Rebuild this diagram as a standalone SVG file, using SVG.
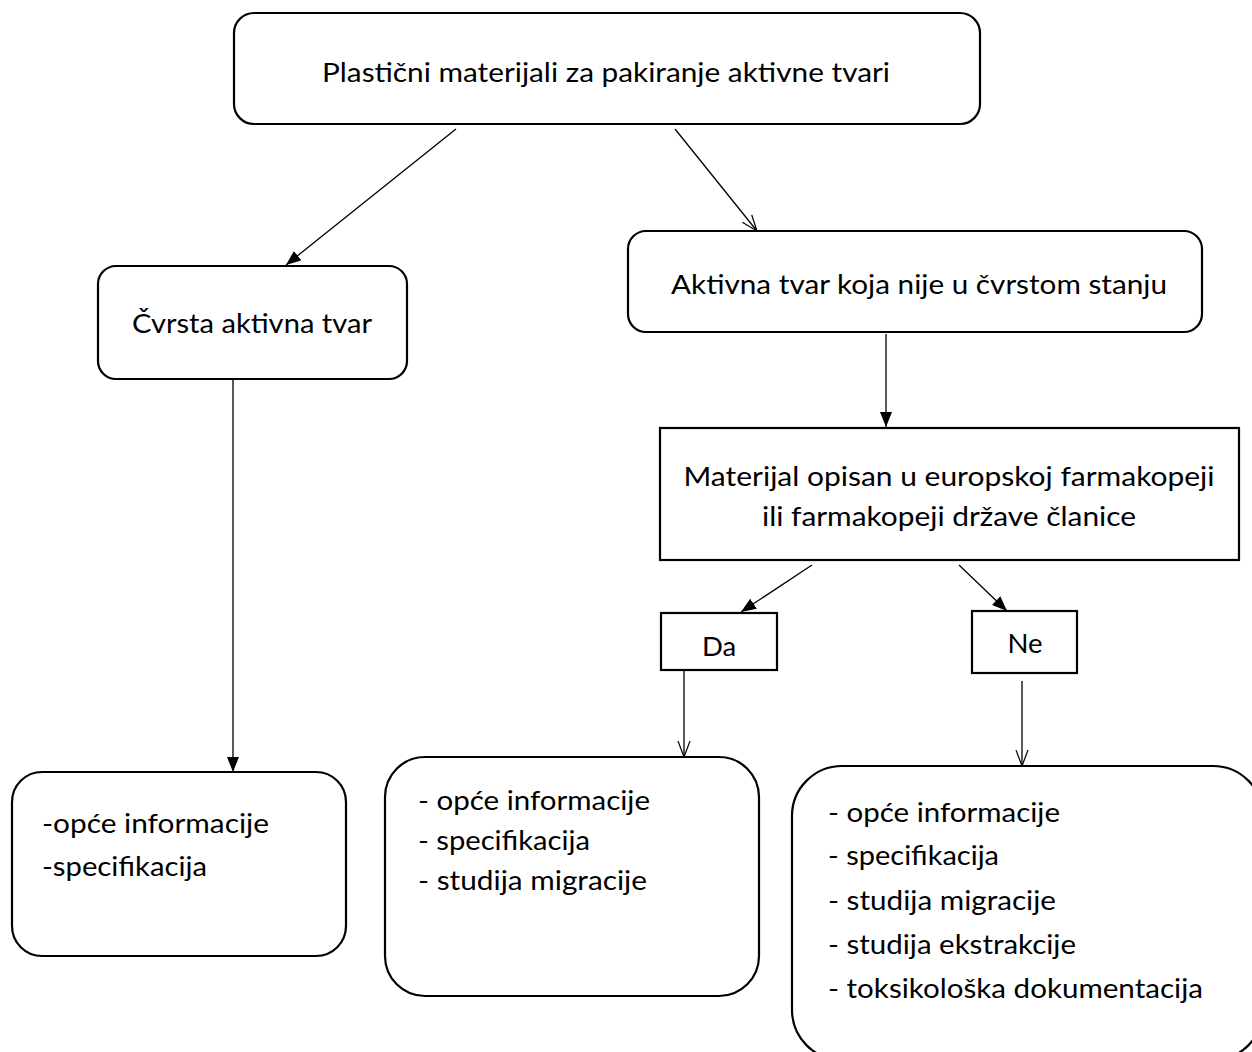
<svg xmlns="http://www.w3.org/2000/svg" width="1252" height="1052" viewBox="0 0 1252 1052">
<style>
.box{fill:#fff;stroke:#000;stroke-width:2.2}
.t{font-family:Lato,"Open Sans","Liberation Sans",sans-serif;font-size:27.5px;fill:#000}
.c{text-anchor:middle}
.con{stroke:#000;stroke-width:1.3;fill:none}
</style>
<defs>
<marker id="fill" markerUnits="userSpaceOnUse" markerWidth="16" markerHeight="12" refX="15" refY="6" orient="auto">
<path d="M0,0 L15,6 L0,12 z" fill="#000"/>
</marker>
<marker id="open" markerUnits="userSpaceOnUse" markerWidth="18" markerHeight="14" refX="16" refY="7" orient="auto">
<path d="M0,1 L16,7 L0,13" fill="none" stroke="#000" stroke-width="1.2"/>
</marker>
</defs>
<rect width="1252" height="1052" fill="#fff"/>
<g id="connectors">
<line class="con" x1="456" y1="129" x2="286" y2="265" marker-end="url(#fill)"/>
<line class="con" x1="675" y1="129" x2="757" y2="231" marker-end="url(#open)"/>
<line class="con" x1="886" y1="334" x2="886" y2="427" marker-end="url(#fill)"/>
<line class="con" x1="233" y1="380" x2="233" y2="772" marker-end="url(#fill)"/>
<line class="con" x1="812" y1="565" x2="741" y2="612" marker-end="url(#fill)"/>
<line class="con" x1="959" y1="565" x2="1007" y2="611" marker-end="url(#fill)"/>
<line class="con" x1="684" y1="671" x2="684" y2="757" marker-end="url(#open)"/>
<line class="con" x1="1022" y1="681" x2="1022" y2="766" marker-end="url(#open)"/>
</g>
<g id="n-top">
<rect class="box" x="234" y="13" width="746" height="111" rx="20"/>
<text class="t c" x="606" y="82" textLength="568" lengthAdjust="spacingAndGlyphs">Plastični materijali za pakiranje aktivne tvari</text>
</g>
<g id="n-cvrsta">
<rect class="box" x="98" y="266" width="309" height="113" rx="18"/>
<text class="t c" x="252" y="333" textLength="240" lengthAdjust="spacingAndGlyphs">Čvrsta aktivna tvar</text>
</g>
<g id="n-aktivna">
<rect class="box" x="628" y="231" width="574" height="101" rx="18"/>
<text class="t c" x="919" y="294" textLength="496" lengthAdjust="spacingAndGlyphs">Aktivna tvar koja nije u čvrstom stanju</text>
</g>
<g id="n-materijal">
<rect class="box" x="660" y="428" width="579" height="132"/>
<text class="t c" x="949" y="486" textLength="531" lengthAdjust="spacingAndGlyphs">Materijal opisan u europskoj farmakopeji</text>
<text class="t c" x="949" y="526" textLength="374" lengthAdjust="spacingAndGlyphs">ili farmakopeji države članice</text>
</g>
<g id="n-da">
<rect class="box" x="661" y="613" width="116" height="57"/>
<text class="t c" x="719" y="656">Da</text>
</g>
<g id="n-ne">
<rect class="box" x="972" y="611" width="105" height="62"/>
<text class="t c" x="1025" y="653">Ne</text>
</g>
<g id="n-list1">
<rect class="box" x="12" y="772" width="334" height="184" rx="30"/>
<text class="t" x="42" y="833" textLength="227" lengthAdjust="spacingAndGlyphs">-opće informacije</text>
<text class="t" x="42" y="876" textLength="165" lengthAdjust="spacingAndGlyphs">-specifikacija</text>
</g>
<g id="n-list2">
<rect class="box" x="385" y="757" width="374" height="239" rx="40"/>
<text class="t" x="418" y="810" textLength="232" lengthAdjust="spacingAndGlyphs">- opće informacije</text>
<text class="t" x="418" y="850" textLength="172" lengthAdjust="spacingAndGlyphs">- specifikacija</text>
<text class="t" x="418" y="890" textLength="229" lengthAdjust="spacingAndGlyphs">- studija migracije</text>
</g>
<g id="n-list3">
<rect class="box" x="792" y="766" width="471" height="294" rx="50"/>
<text class="t" x="828" y="822" textLength="232" lengthAdjust="spacingAndGlyphs">- opće informacije</text>
<text class="t" x="828" y="865" textLength="171" lengthAdjust="spacingAndGlyphs">- specifikacija</text>
<text class="t" x="828" y="910" textLength="228" lengthAdjust="spacingAndGlyphs">- studija migracije</text>
<text class="t" x="828" y="954" textLength="248" lengthAdjust="spacingAndGlyphs">- studija ekstrakcije</text>
<text class="t" x="828" y="998" textLength="375" lengthAdjust="spacingAndGlyphs">- toksikološka dokumentacija</text>
</g>
</svg>
